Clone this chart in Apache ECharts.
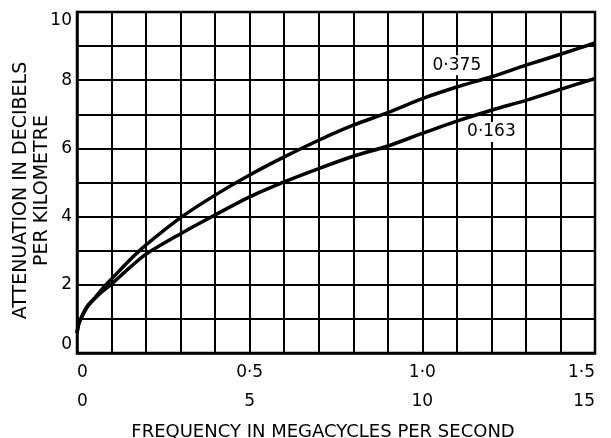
<!DOCTYPE html>
<html>
<head>
<meta charset="utf-8">
<title>Attenuation vs frequency</title>
<script src="https://cdn.jsdelivr.net/npm/echarts@6/dist/echarts.min.js"></script>
<style>
  html, body { margin: 0; padding: 0; background: #fff; }
  #chart { width: 611px; height: 438px; }
</style>
</head>
<body>
<div id="chart"></div>
<script>
// frequency in Mc/s (bottom scale)
const freq = [0, 0.05, 0.15, 0.3, 0.5, 0.75, 1, 1.5, 2, 3, 4, 5, 6, 7, 8, 9, 10, 11, 12, 13, 14, 15];
// attenuation in dB/km
const curve375 = [0.58, 0.85, 1.1, 1.38, 1.6, 1.9, 2.17, 2.7, 3.17, 3.97, 4.63, 5.22, 5.75, 6.24, 6.68, 7.05, 7.46, 7.8, 8.1, 8.44, 8.76, 9.09];
const curve163 = [0.58, 0.85, 1.08, 1.35, 1.58, 1.82, 2.02, 2.48, 2.9, 3.5, 4.05, 4.58, 5.02, 5.41, 5.77, 6.07, 6.44, 6.8, 7.12, 7.41, 7.73, 8.05];

const topTickLabels = ["0", "0·5", "1·0", "1·5"];
const bottomTickLabels = ["0", "5", "10", "15"];
const yTickLabels = ["0", "2", "4", "6", "8", "10"];

// where the curve names sit (data coords)
const label375At = [11.0, 8.44];
const label163At = [12.0, 6.48];

const FONT = "DejaVu Sans";

function pairs(ys) {
  return freq.map((f, i) => [f, ys[i]]);
}

function curveSeries(name, ys, at) {
  return {
    name,
    type: "line",
    smooth: 0.3,
    showSymbol: false,
    silent: true,
    lineStyle: { color: "#000", width: 3.5 },
    data: pairs(ys),
    markPoint: {
      symbol: "rect",
      symbolSize: 1,
      itemStyle: { color: "transparent" },
      label: {
        show: true,
        position: "inside",
        formatter: name,
        color: "#000",
        fontFamily: FONT,
        fontSize: 17,
        backgroundColor: "#fff",
        padding: [2, 3, 1, 3],
      },
      data: [{ coord: at }],
    },
  };
}

const chart = echarts.init(document.getElementById("chart"));

chart.setOption({
  animation: false,
  backgroundColor: "#fff",
  grid: {
    left: 77,
    right: 16,
    top: 12,
    bottom: 85,
    outerBoundsMode: "none",
    containLabel: false,
    show: true,
    borderColor: "#000",
    borderWidth: 2.5,
  },
  xAxis: {
    type: "value",
    min: 0,
    max: 15,
    interval: 1,
    name: "FREQUENCY IN MEGACYCLES PER SECOND",
    nameLocation: "middle",
    nameGap: 70,
    nameMoveOverlap: false,
    nameTextStyle: { color: "#000", fontFamily: FONT, fontSize: 18, padding: [0, 26, 0, 0] },
    axisLine: { show: true, lineStyle: { color: "#000", width: 2.5 } },
    axisTick: { show: false },
    splitLine: { show: true, lineStyle: { color: "#000", width: 2 } },
    axisLabel: {
      color: "#000",
      fontFamily: FONT,
      fontSize: 17,
      lineHeight: 29,
      margin: 5,
      alignMinLabel: "left",
      alignMaxLabel: "right",
      formatter(value) {
        if (value % 5 !== 0) {
          return "";
        }
        const idx = value / 5;
        return topTickLabels[idx] + "\n" + bottomTickLabels[idx];
      },
    },
  },
  yAxis: {
    type: "value",
    min: 0,
    max: 10,
    interval: 1,
    name: "ATTENUATION IN DECIBELS\nPER KILOMETRE",
    nameLocation: "middle",
    nameGap: 24,
    nameMoveOverlap: false,
    nameTextStyle: { color: "#000", fontFamily: FONT, fontSize: 19, lineHeight: 21, padding: [0, 16, 0, 0] },
    axisLine: { show: true, lineStyle: { color: "#000", width: 2.5 } },
    axisTick: { show: false },
    splitLine: { show: true, lineStyle: { color: "#000", width: 2 } },
    axisLabel: {
      color: "#000",
      fontFamily: FONT,
      fontSize: 17,
      margin: 5,
      verticalAlignMinLabel: "bottom",
      verticalAlignMaxLabel: "top",
      formatter(value) {
        return value % 2 === 0 ? yTickLabels[value / 2] : "";
      },
    },
  },
  series: [
    curveSeries("0·375", curve375, label375At),
    curveSeries("0·163", curve163, label163At),
  ],
});
</script>
</body>
</html>
